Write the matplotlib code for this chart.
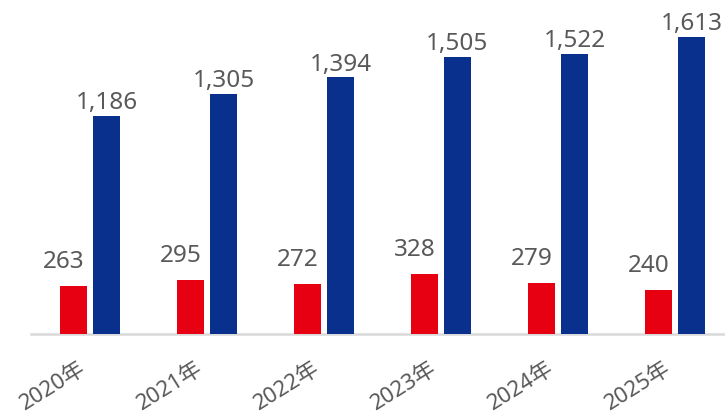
import matplotlib

matplotlib.use("Agg")
import matplotlib.pyplot as plt
import numpy as np

plt.rcParams["font.family"] = ["Noto Sans", "Noto Sans CJK SC", "DejaVu Sans"]

years = ["2020年", "2021年", "2022年", "2023年", "2024年", "2025年"]
red_values = [263, 295, 272, 328, 279, 240]
blue_values = [1186, 1305, 1394, 1505, 1522, 1613]

RED = "#e60012"
BLUE = "#0a308e"
TEXT = "#595959"

fig = plt.figure(figsize=(7.25, 4.13), dpi=100)
ax = fig.add_axes([31 / 725, 79 / 413, 694 / 725, 334 / 413])

x = np.arange(len(years))
width = 0.231
offset = 0.141

red_bars = ax.bar(x - offset, red_values, width, color=RED, zorder=3)
blue_bars = ax.bar(x + offset, blue_values, width, color=BLUE, zorder=3)

for bar, val in zip(red_bars, red_values):
    ax.annotate(f"{val:,}", (bar.get_x() + bar.get_width() / 2, val),
                xytext=(-7, 13), textcoords="offset points",
                ha="center", va="baseline", fontsize=17.5, color=TEXT)
for bar, val in zip(blue_bars, blue_values):
    ax.annotate(f"{val:,}", (bar.get_x() + bar.get_width() / 2, val),
                xytext=(0, 5), textcoords="offset points",
                ha="center", va="baseline", fontsize=17.5, color=TEXT)

ax.set_xlim(-0.504, 5.428)
ax.set_ylim(0, 1815)

# labels sit a bit left of the group centre, like the original
ax.set_xticks(x - 0.1)
ax.set_xticklabels(years, rotation=32, ha="right", rotation_mode="anchor",
                   fontsize=16, color=TEXT)
ax.tick_params(axis="x", length=0, pad=17)
ax.set_yticks([])

for side in ["top", "right", "left"]:
    ax.spines[side].set_visible(False)
ax.spines["bottom"].set_color("#d9d9d9")
ax.spines["bottom"].set_linewidth(1.8)

fig.savefig("out.png", dpi=100)
plt.close(fig)
